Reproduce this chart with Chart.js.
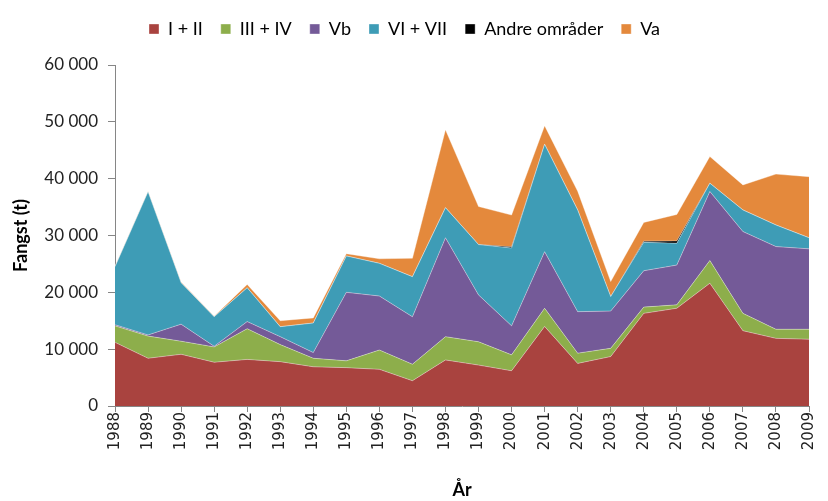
<!DOCTYPE html>
<html>
<head>
<meta charset="utf-8">
<script src="https://cdn.jsdelivr.net/npm/chart.js@4.4.1/dist/chart.umd.min.js"></script>
<style>
	html, body { margin: 0; padding: 0; background: #fff; }
	#wrap { width: 828px; height: 501px; position: relative; }
</style>
</head>
<body>
<div id="wrap"><canvas id="chart" width="828" height="501"></canvas></div>
<script>
	// Years on the x axis.
	var years = [ '1988', '1989', '1990', '1991', '1992', '1993', '1994', '1995', '1996', '1997', '1998',
		'1999', '2000', '2001', '2002', '2003', '2004', '2005', '2006', '2007', '2008', '2009' ];

	// Catch per area (tonnes).
	var area12 = [ 11200, 8400, 9100, 7700, 8200, 7800, 6900, 6750, 6450, 4450, 8100,
		7200, 6200, 14000, 7500, 8700, 16300, 17200, 21600, 13250, 11900, 11750 ];
	var area34 = [ 2900, 3900, 2300, 2700, 5400, 3000, 1500, 1200, 3400, 2900, 4100,
		4100, 2800, 3200, 1800, 1450, 1100, 600, 4000, 3050, 1600, 1750 ];
	var areaVb = [ 200, 200, 3000, 100, 1250, 1400, 1000, 12050, 9500, 8350, 17400,
		8250, 5100, 9950, 7300, 6550, 6400, 7000, 12150, 14400, 14550, 14150 ];
	var area67 = [ 10200, 25200, 7300, 5200, 5950, 1750, 5200, 6400, 5750, 7050, 5300,
		8850, 13700, 18900, 17900, 2550, 5000, 3850, 1450, 3800, 3800, 1950 ];
	var areaOther = [ 0, 0, 0, 0, 0, 0, 0, 0, 0, 0, 0,
		0, 200, 0, 0, 0, 200, 400, 0, 0, 0, 0 ];
	var areaVa = [ 100, 100, 100, 100, 600, 1050, 900, 400, 800, 3250, 13700,
		6700, 5600, 3250, 3300, 2650, 3300, 4650, 4700, 4400, 8950, 10750 ];

	var axisColor = '#868686';
	var textFont = 'Lato, "Open Sans", sans-serif';

	function makeSet( label, data, color, fill ) {
		return {
			label: label,
			data: data,
			backgroundColor: color,
			borderColor: 'rgba(255, 255, 255, 0.45)',
			borderWidth: 0.8,
			pointRadius: 0,
			pointHoverRadius: 0,
			tension: 0,
			fill: fill
		};
	}

	// Extra room between the legend and the plot.
	var legendGap = {
		id: 'legendGap',
		beforeInit: function( chart ) {
			var fit = chart.legend.fit;
			chart.legend.fit = function() {
				fit.call( this );
				this.height += 17;
			};
		}
	};

	new Chart( document.getElementById( 'chart' ), {
		type: 'line',
		data: {
			labels: years,
			datasets: [
				makeSet( 'I + II', area12, '#A9433F', 'origin' ),
				makeSet( 'III + IV', area34, '#8DAE4B', '-1' ),
				makeSet( 'Vb', areaVb, '#745A98', '-1' ),
				makeSet( 'VI + VII', area67, '#3E9CB6', '-1' ),
				makeSet( 'Andre områder', areaOther, '#000000', '-1' ),
				makeSet( 'Va', areaVa, '#E4893C', '-1' )
			]
		},
		options: {
			responsive: false,
			animation: false,
			layout: {
				padding: { top: 2, right: 19, bottom: 0, left: 0 }
			},
			plugins: {
				legend: {
					position: 'top',
					labels: {
						boxWidth: 10,
						boxHeight: 10,
						padding: 18,
						color: '#000',
						font: { family: textFont, size: 18 }
					}
				},
				tooltip: { enabled: false }
			},
			scales: {
				x: {
					stacked: true,
					offset: false,
					grid: {
						offset: false,
						drawOnChartArea: false,
						color: axisColor,
						tickLength: 6
					},
					border: { color: axisColor, width: 1 },
					ticks: {
						minRotation: 90,
						maxRotation: 90,
						autoSkip: false,
						padding: 0,
						color: '#222',
						font: { family: '"DejaVu Sans", sans-serif', size: 15 }
					},
					title: {
						display: true,
						text: 'År',
						color: '#000',
						padding: { top: 10, bottom: 0 },
						font: { family: textFont, size: 18, weight: 'bold' }
					},
					afterFit: function( scale ) {
						scale.height = 95;
					}
				},
				y: {
					stacked: true,
					min: 0,
					max: 60000,
					grid: {
						drawOnChartArea: false,
						color: axisColor,
						tickLength: 7
					},
					border: { color: axisColor, width: 1 },
					ticks: {
						stepSize: 10000,
						padding: 10,
						color: '#222',
						font: { family: textFont, size: 17 },
						callback: function( value ) {
							return value === 0 ? '0' : ( value / 1000 ) + ' 000';
						}
					},
					title: {
						display: true,
						text: 'Fangst (t)',
						color: '#000',
						padding: { top: 10, bottom: 0 },
						font: { family: textFont, size: 18, weight: 'bold' }
					},
					afterFit: function( scale ) {
						scale.width = 115;
					}
				}
			}
		},
		plugins: [ legendGap ]
	} );
</script>
</body>
</html>
